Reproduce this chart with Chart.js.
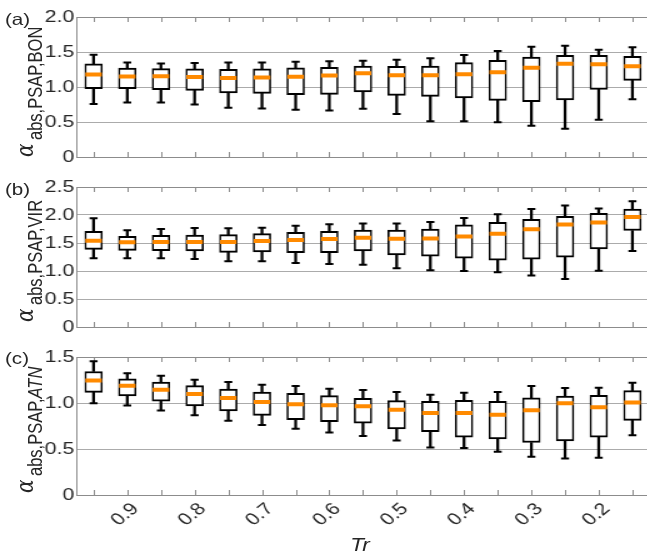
<!DOCTYPE html>
<html>
<head>
<meta charset="utf-8">
<script src="https://cdn.jsdelivr.net/npm/chart.js@4.4.0/dist/chart.umd.min.js"></script>
<style>
  html, body { margin:0; padding:0; background:#fff; width:647px; height:556px; overflow:hidden; }
  #wrap { position:absolute; left:0; top:0; width:530px; height:556px; transform:scaleX(1.25); transform-origin:0 0; }
  canvas { position:absolute; left:0; }
  svg { position:absolute; left:0; top:0; }
</style>
</head>
<body>
<div id="wrap">
  <canvas id="ca" width="530" height="170" style="top:0px"></canvas>
  <canvas id="cb" width="530" height="170" style="top:170px"></canvas>
  <canvas id="cc" width="530" height="216" style="top:340px"></canvas>
  <svg width="530" height="556" font-family="'Liberation Sans', Arial, sans-serif" fill="#262626">
    <text x="4" y="25" font-size="16.5">(a)</text>
    <text x="4" y="195" font-size="16.5">(b)</text>
    <text x="4" y="364" font-size="16.5">(c)</text>
    <text transform="translate(26.4,157) rotate(-90)"><tspan font-family="'DejaVu Serif', serif" font-style="italic" font-size="20">α</tspan><tspan x="17" dy="7.2" font-size="16.5">abs,PSAP,BON</tspan></text>
    <text transform="translate(26.4,322) rotate(-90)"><tspan font-family="'DejaVu Serif', serif" font-style="italic" font-size="20">α</tspan><tspan x="17" dy="7.2" font-size="16.5">abs,PSAP,VIR</tspan></text>
    <text transform="translate(26.4,493) rotate(-90)"><tspan font-family="'DejaVu Serif', serif" font-style="italic" font-size="20">α</tspan><tspan x="17" dy="7.2" font-size="16.5">abs,PSAP,<tspan font-style="italic">ATN</tspan></tspan></text>
    <text x="288" y="551" font-size="18" font-style="italic" text-anchor="middle">Tr</text>
  </svg>
</div>
<script>
// ---- data ----
const trLabels = ['0.95','0.9','0.85','0.8','0.75','0.7','0.65','0.6','0.55','0.5','0.45','0.4','0.35','0.3','0.25','0.2','0.15'];

const bonHigh = [1.46,1.35,1.335,1.344,1.35,1.35,1.359,1.368,1.376,1.39,1.41,1.457,1.514,1.576,1.59,1.533,1.567];
const bonQ3   = [1.33,1.27,1.263,1.258,1.254,1.258,1.273,1.282,1.30,1.295,1.30,1.348,1.381,1.429,1.452,1.452,1.438];
const bonMed  = [1.18,1.15,1.153,1.144,1.129,1.134,1.148,1.163,1.195,1.167,1.167,1.181,1.21,1.276,1.333,1.324,1.295];
const bonQ1   = [0.976,0.976,0.962,0.952,0.914,0.909,0.89,0.895,0.929,0.881,0.867,0.843,0.81,0.79,0.814,0.967,1.095];
const bonLow  = [0.756,0.78,0.78,0.751,0.703,0.694,0.675,0.665,0.69,0.614,0.51,0.51,0.495,0.448,0.405,0.533,0.824];

const virHigh = [1.94,1.726,1.75,1.768,1.762,1.774,1.81,1.833,1.847,1.847,1.876,1.947,2.012,2.106,2.171,2.118,2.247];
const virQ3   = [1.708,1.619,1.637,1.643,1.649,1.667,1.69,1.708,1.729,1.729,1.747,1.824,1.871,1.924,1.976,2.029,2.106];
const virMed  = [1.542,1.512,1.518,1.518,1.518,1.536,1.554,1.571,1.594,1.576,1.582,1.618,1.665,1.747,1.829,1.865,1.965];
const virQ1   = [1.387,1.369,1.363,1.357,1.333,1.339,1.327,1.327,1.359,1.288,1.265,1.229,1.194,1.212,1.247,1.394,1.724];
const virLow  = [1.226,1.226,1.226,1.214,1.173,1.173,1.143,1.125,1.112,1.047,1.012,1.0,0.976,0.918,0.859,1.006,1.359];

const atnHigh = [1.453,1.324,1.295,1.252,1.227,1.198,1.184,1.155,1.141,1.12,1.091,1.112,1.12,1.184,1.163,1.166,1.22];
const atnQ3   = [1.342,1.263,1.227,1.188,1.152,1.119,1.105,1.08,1.051,1.026,1.019,1.03,1.019,1.055,1.076,1.084,1.134];
const atnMed  = [1.245,1.188,1.145,1.098,1.055,1.012,0.987,0.976,0.965,0.926,0.89,0.89,0.872,0.922,0.998,0.954,1.005];
const atnQ1   = [1.116,1.076,1.019,0.969,0.915,0.865,0.818,0.797,0.782,0.718,0.689,0.628,0.61,0.571,0.588,0.628,0.811];
const atnLow  = [0.998,0.972,0.919,0.868,0.807,0.761,0.721,0.678,0.642,0.592,0.517,0.51,0.47,0.416,0.398,0.405,0.649];

const yMaxA = 2.0, yMaxB = 2.5, yMaxC = 1.5;

// ---- styles ----
const AXIS = '#8c8c8c';
const GRID = '#ababab';
const TEXT = '#262626';
const ORANGE = '#ff8a00';
const FONT = "'Liberation Sans', Arial, sans-serif";

const framePlugin = {
  id: 'frame',
  beforeDatasetsDraw(chart) {
    const { ctx, chartArea: { left, right, top, bottom }, scales: { x } } = chart;
    ctx.save();
    ctx.strokeStyle = AXIS;
    ctx.lineWidth = 1;
    ctx.beginPath();
    ctx.moveTo(left, Math.round(top) + 0.5); ctx.lineTo(right, Math.round(top) + 0.5);
    ctx.moveTo(Math.round(right) - 0.5, top); ctx.lineTo(Math.round(right) - 0.5, bottom);
    for (let i = 0; i < trLabels.length; i++) {
      const px = Math.round(x.getPixelForValue(i)) + 0.5;
      ctx.moveTo(px, bottom); ctx.lineTo(px, bottom - 5);
      ctx.moveTo(px, top); ctx.lineTo(px, top + 5);
    }
    ctx.stroke();
    ctx.restore();
  }
};

function makePanel(id, low, q1, med, q3, high, yMax, showX, xHeight) {
  const boxes = q1.map((v, i) => [v, q3[i]]);
  const lowW = low.map((v, i) => [v, q1[i]]);
  const highW = q3.map((v, i) => [v, high[i]]);
  new Chart(document.getElementById(id), {
    type: 'bar',
    data: {
      labels: trLabels,
      datasets: [
        { type: 'line', data: med, showLine: false, pointStyle: 'line', pointRadius: 6.6, pointHoverRadius: 6.6,
          pointBorderWidth: 4, pointBorderColor: ORANGE, borderColor: ORANGE, order: 0 },
        { type: 'line', data: low, showLine: false, pointStyle: 'line', pointRadius: 3.2, pointHoverRadius: 3.2,
          pointBorderWidth: 2, pointBorderColor: '#000', borderColor: '#000', order: 0 },
        { type: 'line', data: high, showLine: false, pointStyle: 'line', pointRadius: 3.2, pointHoverRadius: 3.2,
          pointBorderWidth: 2, pointBorderColor: '#000', borderColor: '#000', order: 0 },
        { type: 'bar', data: boxes, backgroundColor: '#ffffff', borderColor: '#000000',
          borderWidth: { left: 1.6, right: 1.6, top: 2, bottom: 2 }, borderSkipped: false,
          barThickness: 14, grouped: false, order: 1 },
        { type: 'bar', data: lowW, backgroundColor: '#000000', borderWidth: 0,
          barThickness: 1.6, grouped: false, order: 2 },
        { type: 'bar', data: highW, backgroundColor: '#000000', borderWidth: 0,
          barThickness: 1.6, grouped: false, order: 2 }
      ]
    },
    options: {
      responsive: false,
      animation: false,
      devicePixelRatio: 1,
      layout: { padding: { top: 17, right: 9.6, left: 0, bottom: 0 } },
      plugins: { legend: { display: false }, tooltip: { enabled: false } },
      scales: {
        x: {
          type: 'category',
          offset: true,
          grid: { display: false, drawTicks: false },
          border: { display: true, color: AXIS, width: 1 },
          ticks: {
            display: showX,
            autoSkip: false,
            minRotation: 45, maxRotation: 45,
            padding: 4,
            labelOffset: 6.5,
            color: TEXT,
            font: { family: FONT, size: 17 },
            callback: (v, i) => (i % 2 === 1 ? trLabels[i] : '')
          },
          afterFit: (s) => { s.height = xHeight; }
        },
        y: {
          min: 0, max: yMax,
          grid: { color: GRID, lineWidth: 1, drawTicks: false },
          border: { display: true, color: AXIS, width: 1 },
          ticks: {
            stepSize: 0.5,
            padding: 2,
            color: TEXT,
            font: { family: FONT, size: 17 },
            callback: (v) => (v === 0 ? '0' : Number(v).toFixed(1))
          },
          afterFit: (s) => { s.width = 61.4; }
        }
      }
    },
    plugins: [framePlugin]
  });
}

makePanel('ca', bonLow, bonQ1, bonMed, bonQ3, bonHigh, yMaxA, false, 13);
makePanel('cb', virLow, virQ1, virMed, virQ3, virHigh, yMaxB, false, 13);
makePanel('cc', atnLow, atnQ1, atnMed, atnQ3, atnHigh, yMaxC, true, 61);
</script>
</body>
</html>
